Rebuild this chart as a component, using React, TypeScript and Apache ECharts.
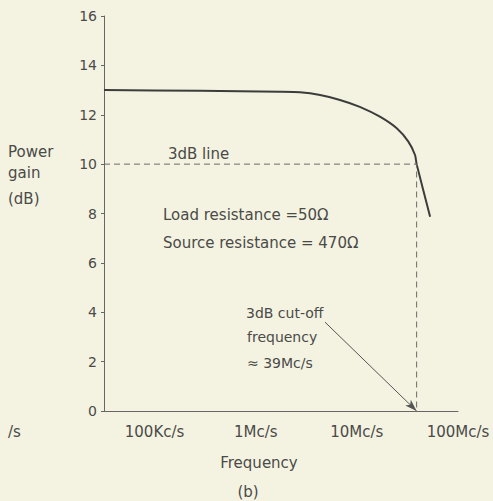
import React, { useEffect, useRef } from "react";
import * as echarts from "echarts";

// Frequency in Mc/s, gain in dB
const curveFreqMcs = [0.0316, 0.282, 1.74, 2.74, 4.33, 6.81, 10.7, 16.9, 24.8, 32.3, 37.6, 39, 53.0];
const curveGainDb = [13.0, 12.97, 12.93, 12.91, 12.8, 12.6, 12.32, 11.92, 11.45, 10.91, 10.37, 10.0, 7.87];

const cutoffMcs = 39;
const threeDbLevel = 10;
const axisMinMcs = 0.0316228;
const axisMaxMcs = 100;

const xTickDecades = [5, 6, 7, 8];
const xTickLabels = ["100Kc/s", "1Mc/s", "10Mc/s", "100Mc/s"];
const yTicks = [0, 2, 4, 6, 8, 10, 12, 14, 16];

const lg = (mcs: number) => Math.log10(mcs * 1e6);

const TEXT = "#4a4a47";
const FONT = "DejaVu Sans";

export default function App() {
  const ref = useRef<HTMLDivElement>(null);
  useEffect(() => {
    if (!ref.current) return;
    const chart = echarts.init(ref.current, null, { renderer: "svg" });
    const curve = curveFreqMcs.map((f, i) => [lg(f), curveGainDb[i]]);
    const xc = lg(cutoffMcs);
    const dashed = [
      [lg(axisMinMcs), threeDbLevel],
      [xc, threeDbLevel],
      [xc, 0],
    ];
    const txt = (text: string, x: number, y: number, size: number, align = "left") => ({
      type: "text",
      x,
      y,
      silent: true,
      style: {
        text,
        fill: TEXT,
        font: `${size}px "${FONT}"`,
        textAlign: align,
        textVerticalAlign: "middle",
      },
    });
    chart.setOption({
      animation: false,
      backgroundColor: "#f4f3e2",
      grid: { left: 104, right: 35, top: 16, bottom: 90, containLabel: false },
      xAxis: {
        type: "value",
        min: lg(axisMinMcs),
        max: lg(axisMaxMcs),
        interval: 0.5,
        splitLine: { show: false },
        axisLine: { lineStyle: { color: "#666", width: 1 } },
        axisTick: { show: false },
        axisLabel: {
          color: TEXT,
          fontFamily: FONT,
          fontSize: 15,
          margin: 13,
          formatter: (v: number) => {
            const i = xTickDecades.findIndex((d) => Math.abs(d - v) < 1e-6);
            return i >= 0 ? xTickLabels[i] : "";
          },
        },
      },
      yAxis: {
        type: "value",
        min: 0,
        max: 16,
        interval: 2,
        splitLine: { show: false },
        axisLine: { show: true, lineStyle: { color: "#666", width: 1 } },
        axisTick: { show: true, length: 3, lineStyle: { color: "#666" } },
        axisLabel: {
          color: TEXT,
          fontFamily: FONT,
          fontSize: 14,
          margin: 7,
          formatter: (v: number) => (yTicks.includes(v) ? String(v) : ""),
        },
      },
      series: [
        {
          type: "line",
          data: curve,
          symbol: "none",
          smooth: 0.2,
          lineStyle: { color: "#3c3c3a", width: 2 },
        },
        {
          type: "line",
          data: dashed,
          symbol: "none",
          lineStyle: { color: "#6a6a66", width: 1, type: [6, 4] },
          markLine: {
            silent: true,
            symbol: ["none", "arrow"],
            symbolSize: [6, 12],
            label: { show: false },
            lineStyle: { color: "#555", width: 1, type: "solid" },
            data: [[{ coord: [6.685, 3.6] }, { coord: [xc, 0] }]],
          },
        },
      ],
      graphic: [
        txt("Power", 8, 152, 15),
        txt("gain", 8, 173, 15),
        txt("(dB)", 8, 199, 15),
        txt("/s", 8, 432, 15),
        txt("3dB line", 168, 154, 15),
        txt("Load resistance =50Ω", 163, 215, 15),
        txt("Source resistance = 470Ω", 163, 243, 15),
        txt("3dB cut-off", 246, 313, 14),
        txt("frequency", 247, 337, 14),
        txt("≈ 39Mc/s", 247, 363, 14),
        txt("Frequency", 259, 463, 15, "center"),
        txt("(b)", 248, 492, 15, "center"),
      ],
    });
    return () => chart.dispose();
  }, []);
  return (
    <div
      ref={ref}
      style={{ position: "fixed", left: 0, top: 0, width: 493, height: 501 }}
    />
  );
}
